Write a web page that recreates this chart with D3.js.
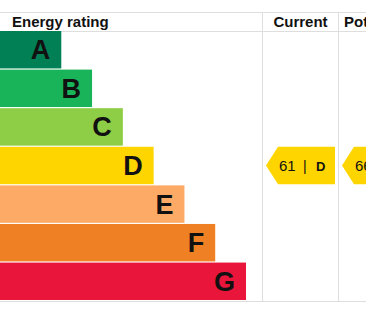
<!DOCTYPE html>
<html>
<head>
<meta charset="utf-8">
<script src="https://cdn.jsdelivr.net/npm/d3@7"></script>
<style>
  body { margin: 0; background: #fff; }
  svg { display: block; font-family: "Liberation Sans", Arial, sans-serif; }
</style>
</head>
<body>
<svg id="drawing_region"></svg>
<script>
// bands and their colours, bar length grows A -> G
const bands = ["A", "B", "C", "D", "E", "F", "G"];
const bandSteps = [1, 2, 3, 4, 5, 6, 7];
const bandColors = ["#008054", "#19b459", "#8dce46", "#ffd500", "#fcaa65", "#ef8023", "#e9153b"];
const columns = ["Current", "Potential"];
const ratingBands = ["D", "D"];
const ratingScores = [61, 66];

const width = 366, height = 311;
const gridTop = 12, headY = 31, gridBottom = 300;
const colX = [262, 338, 414];

const svg = d3.select('#drawing_region')
    .attr('width', width)
    .attr('height', height);

const yscale = d3.scaleBand()
    .domain(bands)
    .range([headY, gridBottom])
    .paddingInner(0.03);

const xscale = d3.scaleLinear()
    .domain([0, 7])
    .range([30.5, 246]);

// grid lines
const grid = svg.append('g')
    .attr('stroke', '#dedede')
    .attr('stroke-width', 1);
grid.append('line').attr('x1', 0).attr('x2', width).attr('y1', gridTop + 0.5).attr('y2', gridTop + 0.5);
grid.append('line').attr('x1', 0).attr('x2', width).attr('y1', headY + 0.5).attr('y2', headY + 0.5);
grid.append('line').attr('x1', 0).attr('x2', width).attr('y1', gridBottom + 1.5).attr('y2', gridBottom + 1.5);
colX.slice(0, 2).forEach(x => {
    grid.append('line').attr('x1', x + 0.5).attr('x2', x + 0.5).attr('y1', gridTop).attr('y2', gridBottom + 2);
});

// header
const header = svg.append('g')
    .attr('font-size', '15px')
    .attr('font-weight', 'bold')
    .attr('fill', '#111');
header.append('text')
    .attr('x', 12).attr('y', 27)
    .text("Energy rating");
header.append('text')
    .attr('x', (colX[0] + colX[1]) / 2 + 0.5)
    .attr('y', 27)
    .attr('text-anchor', 'middle')
    .text(columns[0]);
header.append('text')
    .attr('x', colX[1] + 6)
    .attr('y', 27)
    .text(columns[1]);

// band bars
svg.selectAll('rect.band')
    .data(bands)
    .join('rect')
    .attr('class', 'band')
    .attr('x', 0)
    .attr('y', d => yscale(d))
    .attr('width', (d, i) => xscale(bandSteps[i]))
    .attr('height', yscale.bandwidth())
    .attr('fill', (d, i) => bandColors[i]);

svg.selectAll('text.band')
    .data(bands)
    .join('text')
    .attr('class', 'band')
    .attr('x', (d, i) => xscale(bandSteps[i]) - 11)
    .attr('y', d => yscale(d) + yscale.bandwidth() / 2 + 9.5)
    .attr('text-anchor', 'end')
    .attr('font-size', '27px')
    .attr('font-weight', 'bold')
    .attr('fill', '#111')
    .text(d => d);

// rating arrows
columns.forEach((c, i) => {
    const b = ratingBands[i];
    const y0 = yscale(b), h = yscale.bandwidth();
    const x0 = colX[i] + 4, x1 = colX[i + 1] - 3, tip = 12;
    const g = svg.append('g');
    g.append('path')
        .attr('d', `M${x0},${y0 + h / 2} L${x0 + tip},${y0} L${x1},${y0} L${x1},${y0 + h} L${x0 + tip},${y0 + h} Z`)
        .attr('fill', bandColors[bands.indexOf(b)]);
    g.append('text')
        .attr('x', x0 + 13)
        .attr('y', y0 + h / 2 + 5.5)
        .attr('font-size', '15px')
        .attr('fill', '#111')
        .text(ratingScores[i]);
    g.append('text')
        .attr('x', x0 + 37)
        .attr('y', y0 + h / 2 + 5.5)
        .attr('font-size', '14px')
        .attr('fill', '#111')
        .text("|");
    g.append('text')
        .attr('x', x0 + 50)
        .attr('y', y0 + h / 2 + 5)
        .attr('font-size', '13px')
        .attr('font-weight', 'bold')
        .attr('fill', '#111')
        .text(b);
});
</script>
</body>
</html>
